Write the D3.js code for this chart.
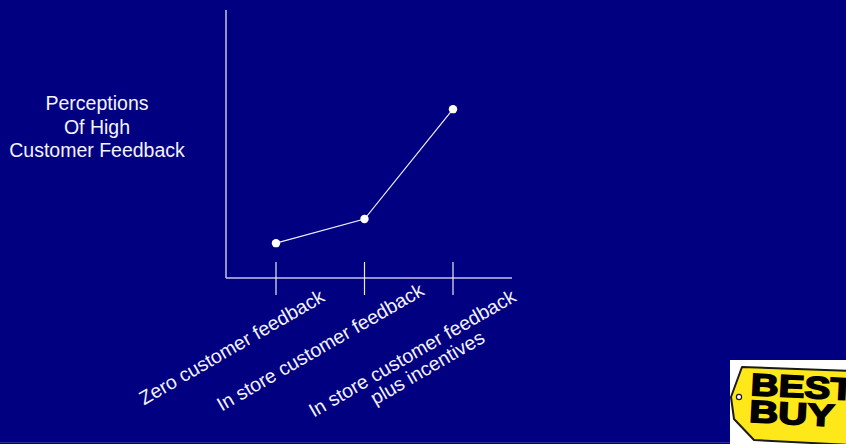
<!DOCTYPE html>
<html>
<head>
<meta charset="utf-8">
<script src="https://cdn.jsdelivr.net/npm/d3@7"></script>
<style>
  html, body { margin: 0; padding: 0; background: #000080; }
  svg { display: block; font-family: "Liberation Sans", Arial, sans-serif; }
</style>
</head>
<body>
<svg id="chart" width="846" height="444"></svg>
<script>
// stages along the x axis (multi-line labels split on "|")
var categories = ["Zero customer feedback", "In store customer feedback", "In store customer feedback|plus incentives"];
// perceived level of customer feedback (relative, 0-100)
var perceptionValues = [13, 22, 63];
var yLabelLines = ["Perceptions", "Of High", "Customer Feedback"];

var svg = d3.select("#chart");
var W = 846, H = 444;

svg.append("rect").attr("width", W).attr("height", H).attr("fill", "#000080");
// faint slide edge at the bottom
svg.append("line").attr("x1", 0).attr("x2", W).attr("y1", H - 1.5).attr("y2", H - 1.5)
    .attr("stroke", "#2c2c96").attr("stroke-width", 1);

var plot = { left: 226, right: 512, top: 10, bottom: 278 };

var x = d3.scalePoint()
    .domain(categories)
    .range([plot.left + 50, plot.right - 59]);

var y = d3.scaleLinear()
    .domain([0, 100])
    .range([plot.bottom, plot.top]);

var axisColor = "#c4c4dc";

// axes: plain L shape
svg.append("line")
    .attr("x1", plot.left).attr("x2", plot.left)
    .attr("y1", y(100)).attr("y2", y(0))
    .attr("stroke", axisColor).attr("stroke-width", 1.5);
svg.append("line")
    .attr("x1", plot.left).attr("x2", plot.right)
    .attr("y1", y(0)).attr("y2", y(0))
    .attr("stroke", axisColor).attr("stroke-width", 1.5);

// tick marks crossing the x axis
svg.selectAll(".tick")
    .data(categories)
    .enter().append("line")
    .attr("class", "tick")
    .attr("x1", d => x(d)).attr("x2", d => x(d))
    .attr("y1", y(0) - 16).attr("y2", y(0) + 17)
    .attr("stroke", "#e8e8f4").attr("stroke-width", 1.2);

// rotated category labels
var lab = svg.selectAll(".xlab")
    .data(categories)
    .enter().append("g")
    .attr("class", "xlab")
    .attr("transform", d => "translate(" + (x(d) - 41) + "," + (y(0) + 75) + ") rotate(-30)");

lab.each(function(d) {
    var lines = d.split("|");
    var t = d3.select(this).append("text")
        .attr("text-anchor", "middle")
        .attr("fill", "#f4f4ff")
        .attr("font-size", 19.5);
    lines.forEach(function(s, i) {
        t.append("tspan")
            .attr("x", i * 6)
            .attr("y", i * 20 + (lines.length - 1) * 7)
            .text(s);
    });
});

// data line and points
var pts = categories.map(function(c, i) { return { cat: c, v: perceptionValues[i] }; });

svg.append("path")
    .datum(pts)
    .attr("fill", "none")
    .attr("stroke", "#f0f0ff")
    .attr("stroke-width", 1.2)
    .attr("d", d3.line().x(d => x(d.cat)).y(d => y(d.v)));

svg.selectAll(".pt")
    .data(pts)
    .enter().append("circle")
    .attr("class", "pt")
    .attr("cx", d => x(d.cat))
    .attr("cy", d => y(d.v))
    .attr("r", 4.2)
    .attr("fill", "#ffffff");

// y axis title
svg.append("text")
    .attr("text-anchor", "middle")
    .attr("fill", "#f4f4ff")
    .attr("font-size", 19.5)
    .selectAll("tspan")
    .data(yLabelLines)
    .enter().append("tspan")
    .attr("x", 97)
    .attr("y", (d, i) => 110 + i * 23.5)
    .text(d => d);

// Best Buy tag logo, bottom right
var logo = svg.append("g");
logo.append("rect").attr("x", 730).attr("y", 360).attr("width", 116).attr("height", 84).attr("fill", "#ffffff");
logo.append("path")
    .attr("d", "M742,367 L850,371 L850,445 L754,440 L734,419 L731,397 Z")
    .attr("fill", "#ffe81a")
    .attr("stroke", "#1a1a1a")
    .attr("stroke-width", 2)
    .attr("stroke-linejoin", "round");
logo.append("circle").attr("cx", 739).attr("cy", 397).attr("r", 2.6)
    .attr("fill", "#ffffff").attr("stroke", "#1a1a1a").attr("stroke-width", 1.2);
var lt = logo.append("g").attr("transform", "rotate(3,790,400)");
lt.append("text")
    .attr("transform", "translate(750,397) scale(1.25,1)")
    .attr("font-size", 31).attr("font-weight", "bold")
    .attr("fill", "#000").attr("stroke", "#000").attr("stroke-width", 1.6)
    .text("BEST");
lt.append("text")
    .attr("transform", "translate(750,424) scale(1.3,1)")
    .attr("font-size", 31).attr("font-weight", "bold")
    .attr("fill", "#000").attr("stroke", "#000").attr("stroke-width", 1.6)
    .text("BUY");
</script>
</body>
</html>
